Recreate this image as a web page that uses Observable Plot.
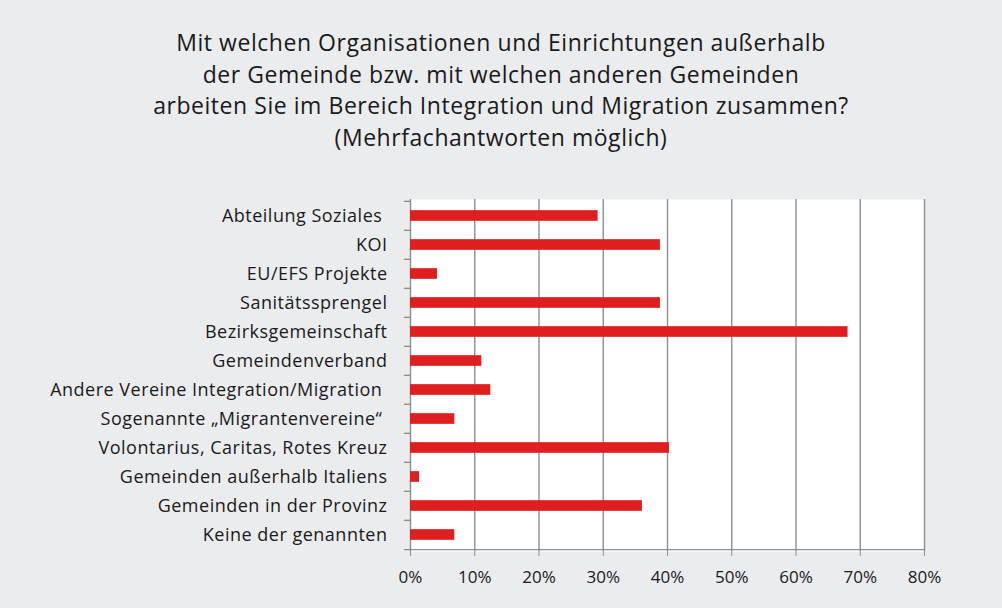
<!DOCTYPE html>
<html>
<head>
<meta charset="utf-8">
<script src="https://cdn.jsdelivr.net/npm/d3@7"></script>
<script src="https://cdn.jsdelivr.net/npm/@observablehq/plot@0.6"></script>
<style>
  html, body { margin: 0; padding: 0; background: #ebecee; }
  body { width: 1002px; height: 608px; overflow: hidden; font-family: "Open Sans", sans-serif; }
  #title { box-sizing: border-box; height: 170px; padding-top: 27px; text-align: center;
           font-size: 23px; letter-spacing: 0.55px; line-height: 31.7px; color: #1a1a1a; }
  svg text { white-space: pre; }
  .ylab text { letter-spacing: 0.5px; }
</style>
</head>
<body>
<div id="title">Mit welchen Organisationen und Einrichtungen außerhalb<br>der Gemeinde bzw. mit welchen anderen Gemeinden<br>arbeiten Sie im Bereich Integration und Migration zusammen?<br>(Mehrfachantworten möglich)</div>
<div id="chart"></div>
<script>
const categories = [
  "Abteilung Soziales ",
  "KOI",
  "EU/EFS Projekte",
  "Sanitätssprengel",
  "Bezirksgemeinschaft",
  "Gemeindenverband",
  "Andere Vereine Integration/Migration ",
  "Sogenannte „Migrantenvereine“ ",
  "Volontarius, Caritas, Rotes Kreuz",
  "Gemeinden außerhalb Italiens",
  "Gemeinden in der Provinz",
  "Keine der genannten"
];
const values = [29.2, 38.9, 4.2, 38.9, 68.1, 11.1, 12.5, 6.9, 40.3, 1.4, 36.1, 6.9];
const xTicks = [0, 10, 20, 30, 40, 50, 60, 70, 80];

const data = categories.map((c, i) => ({category: c, value: values[i]}));

const W = 1002, H = 438, mT = 29, mB = 57, mL = 410, mR = 78;
const step = (H - mT - mB) / categories.length;
const grid = "#8e8e8e";

const chart = Plot.plot({
  width: W, height: H,
  marginTop: mT, marginBottom: mB, marginLeft: mL, marginRight: mR,
  style: {fontFamily: "Open Sans", fontSize: "16px", background: "transparent", color: "#1a1a1a"},
  x: {domain: [0, 80], label: null},
  y: {domain: categories, padding: 0, label: null},
  marks: [
    Plot.frame({fill: "white", stroke: null}),
    Plot.ruleX(xTicks, {stroke: grid, strokeWidth: 1.4}),
    Plot.ruleY(categories, {y: d => d, x1: -0.95, x2: 0, dy: -step / 2, stroke: grid, strokeWidth: 1.4}),
    Plot.ruleY([categories[categories.length - 1]], {y: d => d, x1: -0.95, x2: 80, dy: step / 2, stroke: grid, strokeWidth: 1.4}),
    Plot.barX(data, {y: "category", x: "value", fill: "#e01e1e", insetTop: (step - 11) / 2, insetBottom: (step - 11) / 2}),
    Plot.axisY({tickSize: 0, tickPadding: 23, fontSize: 18, label: null, className: "ylab"}),
    Plot.axisX({ticks: xTicks, tickFormat: d => d + "%", tickSize: 5, tickPadding: 14, fontSize: 17, stroke: grid, label: null})
  ]
});
document.getElementById("chart").appendChild(chart);
</script>
</body>
</html>
